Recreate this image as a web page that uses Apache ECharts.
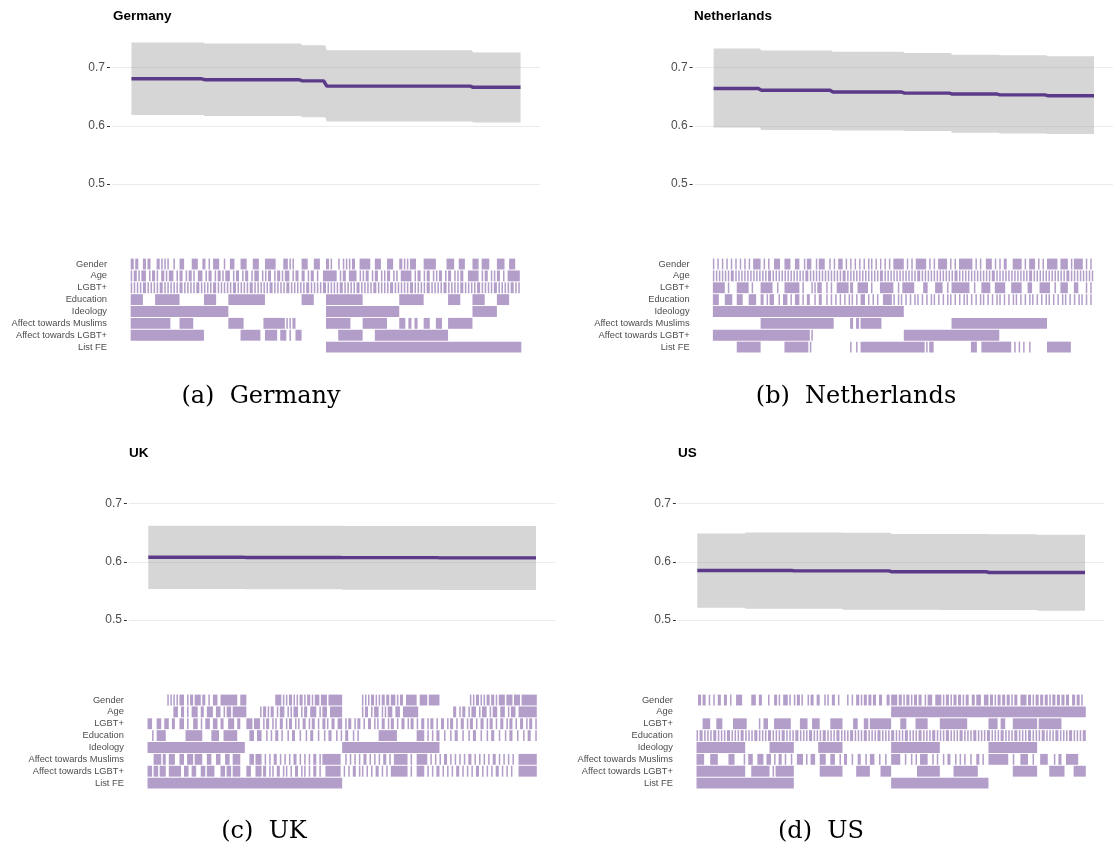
<!DOCTYPE html>
<html>
<head>
<meta charset="utf-8">
<script src="https://cdn.jsdelivr.net/npm/echarts@6/dist/echarts.min.js"></script>
<style>
  html, body { margin: 0; padding: 0; background: #fff; }
  #chart { width: 1113px; height: 853px; }
</style>
</head>
<body>
<div id="chart"></div>
<script>
// Specification curves: 256 model specifications per country, sorted by estimate.
const SPEC_COUNT = 256;
const rowLabels = ['Gender', 'Age', 'LGBT+', 'Education', 'Ideology',
  'Affect towards Muslims', 'Affect towards LGBT+', 'List FE'];

// Estimates and 95% bounds, given as runs of specifications sharing a value
const germanyRunLengths = [48, 64, 16, 96, 32];
const germanyEstimate = [0.6806, 0.6790, 0.6770, 0.6680, 0.6660];
const germanyLower    = [0.6187, 0.6170, 0.6148, 0.6073, 0.6056];
const germanyUpper    = [0.7426, 0.7410, 0.7380, 0.7295, 0.7256];

const netherlandsRunLengths = [32, 48, 48, 32, 32, 32, 32];
const netherlandsEstimate = [0.6640, 0.6610, 0.6580, 0.6560, 0.6545, 0.6530, 0.6516];
const netherlandsLower    = [0.5970, 0.5930, 0.5920, 0.5910, 0.5880, 0.5870, 0.5860];
const netherlandsUpper    = [0.7324, 0.7290, 0.7270, 0.7250, 0.7220, 0.7210, 0.7193];

const ukRunLengths = [64, 64, 64, 64];
const ukEstimate = [0.6078, 0.6075, 0.6072, 0.6068];
const ukLower    = [0.5533, 0.5528, 0.5522, 0.5515];
const ukUpper    = [0.6617, 0.6617, 0.6614, 0.6612];

const usRunLengths = [32, 32, 32, 32, 32, 32, 32, 32];
const usEstimate = [0.5851, 0.5851, 0.5845, 0.5845, 0.5829, 0.5829, 0.5817, 0.5817];
const usLower    = [0.5212, 0.5195, 0.5195, 0.5178, 0.5178, 0.5172, 0.5172, 0.5160];
const usUpper    = [0.6486, 0.6503, 0.6503, 0.6497, 0.6475, 0.6475, 0.6472, 0.6465];

// Specification indicators: included specifications (index ranges, inclusive) per control
const germanyIncluded = [
  "0-1 3-4 8-9 11-12 17-18 20 22 24 28 32-34 40-43 47-48 51 54-57 61 65-67 72-75 80-83 88-94 100-102 104 106 112-115 120-123 128-129 131 136 139 141 143 145-146 150-156 160-163 168-171 176-177 179 181 183-186 192-199 207-211 215-218 224-227 230-234 240-244 248-251",
  "0 2-3 5 7-9 12 14-15 17 20-21 23 25-27 30 32-33 36 38-39 41 44-46 49 51-52 55 57-58 60 62-64 67 69-70 73 75-76 79 81-83 86 88 90-91 94 96-97 99 101-103 106 108-109 112-113 116 118-119 122 126-134 137 139-140 143-147 150 152 154-155 158 160-161 164 166 168-169 172 174 177-183 186 188-189 192 194-195 198 200 202-203 206 208-209 212 214 216-217 221-227 230 232-233 236 238 240-241 244 247-254",
  "0 2 4 6 8-9 11 13 15 17 19-20 22 24 26 28 30 32-33 35 37 39 41 43-44 46 48 50 52 54-55 57 59 61 63 65 67-68 70 72 74 76 78-79 81 83 85 87 89 91-92 94 96 98 100 102-103 105 107 109 111 113 115-116 118 120 122 124 126-127 129 131 133 135 137-138 140 142 144 146 148-149 151 153 155 157 159-160 162 164 166 168 170-171 173 175 177 179 181 183-184 186 188 190 192 194-195 197 199 201 203 205-206 208 210 212 214 216-217 219 221 223 225 227-228 230 232 234 236 238-239 241 243 245 247 249-250 252 254",
  "0-7 16-31 48-55 64-87 112-119 128-151 176-191 208-215 224-231 240-247",
  "0-63 128-175 224-239",
  "0-25 32-40 64-73 87-100 102 104 106-107 128-143 152-167 176-179 182-183 186-187 192-195 200-203 208-223",
  "0-47 72-84 88-95 98-101 104 108-111 136-151 160-207",
  "128-255"
];

const netherlandsIncluded = [
  "0 3 6 9 12 15 18 21 24 27-31 34 37 41-44 48-51 55-57 61 63-65 69 71-74 78 81 84-86 89 92 95 98 101 104 106 109 112 115 118 121-127 130 133 136-142 145 148 151-156 159 162 165-173 176 179 183-186 189 192 195-196 201-206 209 212-215 218 221 224-230 233-237 240 242-247 250 253",
  "0 2 4 6 8 10 12-13 15 17 19 21 23 25 27 29 31 33 35 37-38 40 42 44 46 48 50 52 54 56 58 60 62-63 65 67 69 71 73 75 77 79 81 83 85 87-88 90 92 94 96 98 100 102 104 106 108 110 112-113 115 117 119 121 123 125 127 129 131 133 135 137-138 140 142 144 146 148 150 152 154 156 158 160 162-163 165 167 169 171 173 175 177 179 181 183 185 187-188 190 192 194 196 198 200 202 204 206 208 210 212-213 215 217 219 221 223 225 227 229 231 233 235 237-238 240 242 244 246 248 250 252 254",
  "0-7 10 16-23 26 32-39 43 48-57 60 66 68 70-72 76 79 83-90 92-93 97-103 106 112-120 124 127-134 141-143 149-153 157 160-171 175 180-185 189-195 200-206 211-213 219-225 229 233-237 242-244 250 253",
  "0-3 8-12 16-19 24-28 32-33 36 38-40 44 47-49 52 55-57 60 63-64 68 71-72 76 79 82 85 88 91 93 96 99-101 104 107 110 114-119 121 124 126 129 132 135 137 140 143 146 148 151 154 157 159 162 165 168 170 173 176 179 181 184 187 190 192 195 198 201 203 206 209 212 214 217 220 223 225 228 231 234 236 239 242 245 247 250 253",
  "0-127",
  "32-80 92-93 96-97 99-112 160-223",
  "0-64 66 128-191",
  "16-31 48-63 65 92 96 99-141 143 145-147 173-176 180-199 202 205 208 212 224-239"
];

const ukIncluded = [
  "13 15 17 19 21-23 26 28-29 31-34 36-37 40 43-45 48-58 61-64 84-87 89 91 93-94 96 98 100-101 103 105-106 108 110-112 114-117 119-127 141 143 145 147-148 150 152 154-155 157-158 160-162 164 166-167 170-176 179-183 185-191 212 214 216-217 219 221 223-224 226-227 229 231-234 236-239 241-244 246-255",
  "17-19 22-23 26 29-32 35-36 39-42 45-47 50 52-54 56-64 74 76-77 79 81-82 85 87-89 92 94 96-98 101 103-104 107-110 113 115-117 120-127 141 143-144 147 149-151 154 156 158-160 163-165 168-177 201-202 205 207-208 211 213-215 218 220-222 225 227-229 232-234 237 239-241 244-255",
  "0-2 6-8 11-13 16-17 21-23 26 30-32 35 38-40 43-45 48-49 53-56 59-60 65-68 70-73 76 78-79 82 84 87-88 91 93-94 97 99 102-103 106 108-109 112 115-116 118 121-122 125-127 130 132-133 136 138-139 142 145-146 149 151 154-155 158 160-161 164 167-168 171 173-174 177 180-181 184 186-187 190 193-194 197 199-200 203 206-207 210 212-213 216 219-220 223 225-226 229 232-233 236 238-239 242 245-246 249 251-252 255",
  "3 6-11 25-35 42-46 50-58 67-69 72-74 78 81 84-85 88 92 95-96 100 104 107-108 112 116 119-120 124 127 130-131 135 138 152-163 177-181 184 187 190-191 195 199 202-203 207 211 214-215 219 223 226-227 231 235 238-239 243 247 250-251 255",
  "0-63 128-191",
  "4-8 10-11 14-17 21-23 26-29 31-35 39-41 45-47 51-53 56-60 67-69 71-74 77 80 83-84 87 90 93 96-97 100 103 106 109-110 113 115-126 130 133 136 139 142-143 146 149 152 155-156 159 162-170 173 177-183 186 189 192 195-196 199 202 205 208 211-212 215 218 221 224 227-228 231 234 237 240 244-255",
  "0-2 4-6 8-11 14-21 24-26 29-31 35-37 39-43 48-50 52-54 56-60 65-67 71-74 76-77 80 82 85-86 89 91 94 97-98 101 103 106 109-110 113 117-126 129 132 135-136 139 141 144 147 150-151 154 157 160-170 173 177-181 184 187 190-191 194 197 200 203-204 207 210 213 216-217 220 223 226 229-230 233 236 239 244-255",
  "0-127"
];

const usIncluded = [
  "1-2 4-5 8 11 14-15 18-19 22 26-29 36-38 41-42 47 51-52 54 57-59 61 64 66-67 69 73 75-76 79-80 84 86 89-90 93 99 102 105-106 108 110-111 113-114 116-117 120-121 125-126 128-131 133-134 136 138-139 141 143-144 146-147 150 152-154 157-160 162 164-165 167 169-170 172-173 175 177-178 181-182 184-186 189-191 193-194 196 198-199 201-202 204-205 207 209-210 213-216 218-219 221 223-224 226-227 229-230 232 234-235 237-238 240-241 243-244 247-248 250-251 253",
  "128-255",
  "4-8 13-16 24-32 41 44-46 51-61 68-72 76-80 88-95 103-105 110-112 114-127 134-137 144-151 160-177 192-197 200-202 208-223 225-239",
  "0 2-3 5 7 9 11-12 14 16 18 20-21 23 25 27 29-30 32 34 36 38-39 41 43 45 47-48 50 52 54 56-57 59 61 63 65-66 68 70 72 74-75 77 79 81 83-84 86 88 90 92-93 95 97 99 101-102 104 106 108 110-111 113 115 117 119-120 122 124 126 128-129 131 133 135 137-138 140 142 144 146-147 149 151 153 155-156 158 160 162 164-165 167 169 171 173-174 176 178 180 182-183 185 187 189 191-192 194 196 198 200-201 203 205 207 209-210 212 214 216 218-219 221 223 225 227-228 230 232 234 236-237 239 241 243 245-246 248 250 252 254-255",
  "0-31 48-63 80-95 128-159 192-223",
  "0-4 9-13 21-24 31 34-36 40-43 46-48 51 54-55 58 62 66-69 72 75-77 81-84 88-90 94 97-98 102 106-107 111 114-116 120 124 128-133 137 141 144 147-151 155 158 162 165-166 170 173 176 180 184-185 188 192-204 208 213-217 221 226-230 235 238-239 243-250",
  "0-31 36-47 50 52-63 81-95 105-113 121-127 145-159 169-184 208-223 232-241 248-255",
  "0-63 128-191"
];

// ---- helpers -------------------------------------------------------------
function expandRuns(lengths, values) {
  const out = [];
  lengths.forEach((n, k) => { for (let j = 0; j < n; j++) out.push(values[k]); });
  return out;
}
function parseRanges(rows) {
  const cells = [];
  rows.forEach((txt, r) => {
    txt.trim().split(/\s+/).forEach(tok => {
      const [a, b] = tok.split('-').map(Number);
      cells.push([a, b === undefined ? a : b, r]);
    });
  });
  return cells;
}

const TILE = '#B39DC9';
const LINE = '#5C3A8A';
const BAND = 'rgba(153,153,153,0.4)';   // translucent ribbon, grid shows through
const GRIDC = '#EBEBEB';
const X_PAD = 12.75;   // 5% expansion on either side of the specification range

const panels = [
  { name: 'Germany', caption: '(a)  Germany', runs: germanyRunLengths, est: germanyEstimate, lo: germanyLower, hi: germanyUpper, inc: germanyIncluded,
    left: 112, width: 428, yTop: 38.3, yBot: 213.3, mTop: 258.1, mBot: 353, tx: 113, ty: 16, cx: 261, cy: 397 },
  { name: 'Netherlands', caption: '(b)  Netherlands', runs: netherlandsRunLengths, est: netherlandsEstimate, lo: netherlandsLower, hi: netherlandsUpper, inc: netherlandsIncluded,
    left: 694.6, width: 425.7, yTop: 38.3, yBot: 213.3, mTop: 258.1, mBot: 353, tx: 694, ty: 16, cx: 856, cy: 397 },
  { name: 'UK', caption: '(c)  UK', runs: ukRunLengths, est: ukEstimate, lo: ukLower, hi: ukUpper, inc: ukIncluded,
    left: 128.9, width: 426.5, yTop: 474.3, yBot: 649.3, mTop: 694.1, mBot: 789, tx: 129, ty: 453, cx: 264, cy: 832 },
  { name: 'US', caption: '(d)  US', runs: usRunLengths, est: usEstimate, lo: usLower, hi: usUpper, inc: usIncluded,
    left: 677.9, width: 426.5, yTop: 474.3, yBot: 649.3, mTop: 694.1, mBot: 789, tx: 678, ty: 453, cx: 821, cy: 832 }
];

const grid = [], xAxis = [], yAxis = [], series = [], graphic = [];

panels.forEach((p, k) => {
  const est = expandRuns(p.runs, p.est);
  const lo = expandRuns(p.runs, p.lo);
  const hi = expandRuns(p.runs, p.hi);
  const g1 = 2 * k, g2 = 2 * k + 1;

  grid.push({ left: p.left, top: p.yTop, width: p.width, height: p.yBot - p.yTop });
  grid.push({ left: p.left, top: p.mTop, width: p.width, height: p.mBot - p.mTop });

  [g1, g2].forEach(gi => xAxis.push({
    gridIndex: gi, type: 'value', min: -X_PAD, max: SPEC_COUNT - 1 + X_PAD, show: false,
    axisLine: { onZero: false }
  }));

  yAxis.push({
    gridIndex: g1, type: 'value', min: 0.45, max: 0.75, interval: 0.05, offset: 2,
    axisLine: { show: false, onZero: false },
    axisTick: { show: true, length: 3, customValues: [0.5, 0.6, 0.7], lineStyle: { color: '#333', width: 1 } },
    axisLabel: { customValues: [0.5, 0.6, 0.7], margin: 5, fontSize: 12, color: '#4D4D4D',
      fontFamily: 'Liberation Sans, Arial, sans-serif', formatter: v => v.toFixed(1) },
    splitLine: { show: true, lineStyle: { color: GRIDC, width: 1 } }
  });
  yAxis.push({
    gridIndex: g2, type: 'category', data: rowLabels, inverse: true,
    axisLine: { show: false, onZero: false }, axisTick: { show: false }, splitLine: { show: false },
    axisLabel: { margin: 5, fontSize: 9.3, color: '#4D4D4D', fontFamily: 'Liberation Sans, Arial, sans-serif' }
  });

  // confidence band as one polygon through the upper and lower bounds
  const bandData = est.map((_, i) => [i, lo[i], hi[i]]);
  series.push({
    type: 'custom', xAxisIndex: g1, yAxisIndex: g1, silent: true, z: 1,
    data: bandData, encode: { x: 0, y: [1, 2] },
    renderItem: (params, api) => {
      if (params.dataIndex !== 0) return null;
      const pts = [];
      for (let i = 0; i < bandData.length; i++) pts.push(api.coord([bandData[i][0], bandData[i][2]]));
      for (let i = bandData.length - 1; i >= 0; i--) pts.push(api.coord([bandData[i][0], bandData[i][1]]));
      return { type: 'polygon', shape: { points: pts }, style: { fill: BAND } };
    }
  });

  series.push({
    type: 'line', xAxisIndex: g1, yAxisIndex: g1, z: 3, silent: true,
    data: est.map((v, i) => [i, v]), symbol: 'none',
    lineStyle: { color: LINE, width: 3.4 }
  });

  // indicator tiles for the included controls
  series.push({
    type: 'custom', xAxisIndex: g2, yAxisIndex: g2, silent: true,
    data: parseRanges(p.inc), encode: { x: [0, 1], y: 2 },
    renderItem: (params, api) => {
      const a = api.value(0), b = api.value(1), r = api.value(2);
      const p0 = api.coord([a - 0.5, r]);
      const p1 = api.coord([b + 0.5, r]);
      const h = api.size([0, 1])[1];
      return { type: 'rect', shape: { x: p0[0], y: p0[1] - h / 2 + 0.5, width: p1[0] - p0[0], height: h - 1 },
        style: { fill: TILE } };
    }
  });

  graphic.push({ type: 'text', x: p.tx, y: p.ty,
    style: { text: p.name, font: 'bold 13.5px "Liberation Sans", Arial, sans-serif', fill: '#000',
      textAlign: 'left', textVerticalAlign: 'middle' } });
  graphic.push({ type: 'text', x: p.cx, y: p.cy,
    style: { text: p.caption, font: '24px "DejaVu Serif", serif', fill: '#000',
      textAlign: 'center', textVerticalAlign: 'middle' } });
});

const chart = echarts.init(document.getElementById('chart'), null, { renderer: 'canvas' });
chart.setOption({ animation: false, backgroundColor: '#fff', grid, xAxis, yAxis, series, graphic });
</script>
</body>
</html>
